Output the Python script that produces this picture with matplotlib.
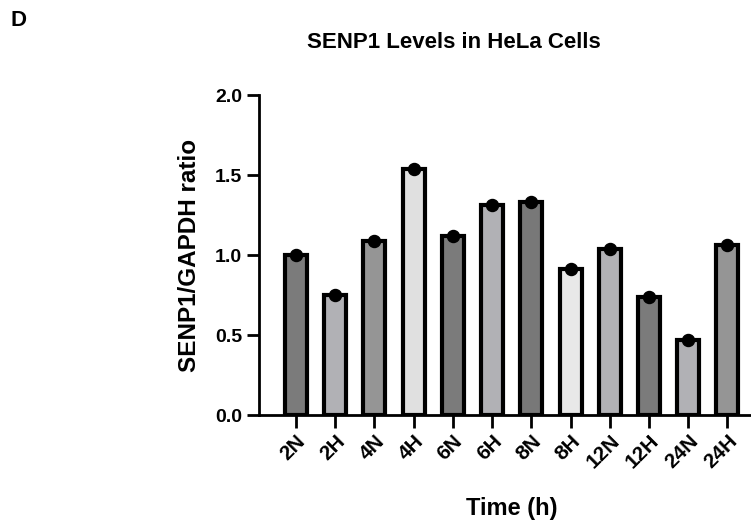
import matplotlib.pyplot as plt
import numpy as np

plt.rcParams['font.family'] = ['Liberation Sans', 'DejaVu Sans']
plt.rcParams['font.weight'] = 'bold'

groups = ['2N', '2H', '4N', '4H', '6N', '6H', '8N', '8H', '12N', '12H', '24N', '24H']
ratio = [1.00, 0.75, 1.09, 1.54, 1.12, 1.31, 1.33, 0.91, 1.04, 0.74, 0.47, 1.06]
fills = ['#7b7b7b', '#b1b1b5', '#959595', '#e0e0e0', '#7b7b7b', '#b1b1b5',
         '#787878', '#e8e8e8', '#b1b1b5', '#7b7b7b', '#b1b1b5', '#959595']

fig = plt.figure(figsize=(7.51, 5.26), dpi=100)
ax = fig.add_axes([259/751, 111/526, 1 - 259/751, 320/526])

x = np.arange(len(groups))
ax.bar(x, ratio, width=0.56, color=fills, edgecolor='black', linewidth=3, zorder=2)
ax.scatter(x, ratio, s=75, color='black', zorder=3, clip_on=False)

ax.set_xlim(-0.94, 11.6)
ax.set_ylim(0, 2.0)
ax.set_yticks([0, 0.5, 1.0, 1.5, 2.0])
ax.set_yticklabels(['0.0', '0.5', '1.0', '1.5', '2.0'])
ax.set_xticks(x)
ax.set_xticklabels(groups, rotation=45, ha='right', rotation_mode='anchor')

for s in ['top', 'right']:
    ax.spines[s].set_visible(False)
for s in ['left', 'bottom']:
    ax.spines[s].set_linewidth(2)
ax.tick_params(width=2, length=9, labelsize=14, pad=3)
ax.tick_params(axis='x', labelsize=15)

ax.set_ylabel('SENP1/GAPDH ratio', fontsize=17.5, fontweight='bold')
ax.yaxis.set_label_coords(-0.118, 0.5)
ax.set_xlabel('Time (h)', fontsize=17, fontweight='bold')
ax.xaxis.set_label_coords(0.513, -0.255)
fig.text(454/751, 1 - 42/526, 'SENP1 Levels in HeLa Cells', fontsize=16,
         fontweight='bold', ha='center', va='center')
fig.text(11/751, 1 - 21/526, 'D', fontsize=16, fontweight='bold', ha='left', va='center')

plt.savefig('out.png', dpi=100)
plt.close('all')
